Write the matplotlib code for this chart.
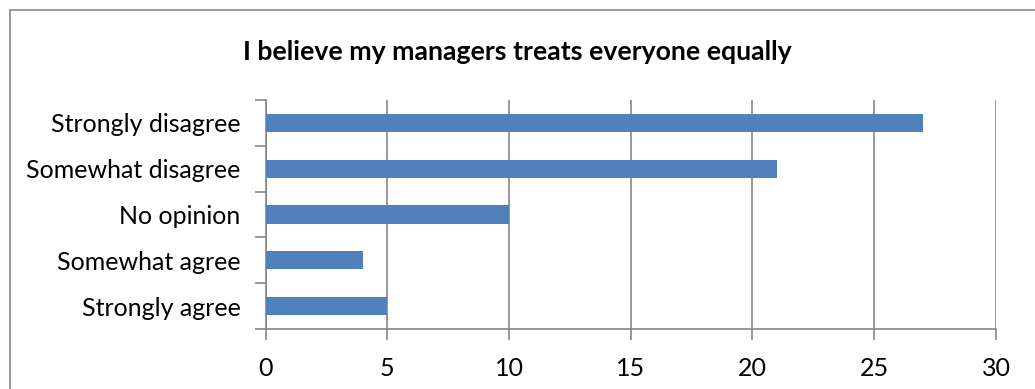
import matplotlib.pyplot as plt
from matplotlib.patches import Rectangle

categories = ['Strongly disagree', 'Somewhat disagree', 'No opinion',
              'Somewhat agree', 'Strongly agree']
counts = [27, 21, 10, 4, 5]
x_ticks = [0, 5, 10, 15, 20, 25, 30]

plt.rcParams['font.family'] = ['Lato', 'DejaVu Sans']

W, H = 1035, 389
fig = plt.figure(figsize=(W / 100, H / 100), dpi=100)

# outer chart border
fig.patches.append(Rectangle((10 / W, -0.05), 1.2, (H - 10) / H + 0.05,
                             transform=fig.transFigure, fill=False,
                             edgecolor='#868686', linewidth=1.2))

ax = fig.add_axes([265.5 / W, 1 - 329 / H, (996 - 265.5) / W, 229 / H])

pos = list(range(len(categories)))
ax.barh(pos, counts, height=0.4, color='#4F81BD', zorder=3)
ax.set_ylim(len(categories) - 0.5, -0.5)
ax.set_xlim(0, 30)

ax.set_xticks(x_ticks)
ax.set_xticklabels([str(t) for t in x_ticks], fontsize=18)
ax.set_yticks(pos)
ax.set_yticklabels(categories, fontsize=18)
ax.tick_params(axis='y', length=0, pad=18)
ax.tick_params(axis='x', length=8, color='#868686', width=1.2, pad=12)

# category boundary ticks on the left axis
ax.set_yticks([p - 0.5 for p in pos] + [len(categories) - 0.5], minor=True)
ax.tick_params(axis='y', which='minor', length=8, color='#868686', width=1.2)

ax.grid(axis='x', color='#868686', linewidth=1.2, zorder=0)
for side in ['top', 'right']:
    ax.spines[side].set_visible(False)
for side in ['left', 'bottom']:
    ax.spines[side].set_color('#868686')
    ax.spines[side].set_linewidth(1.2)

fig.text(0.5, 1 - 52 / H, 'I believe my managers treats everyone equally',
         ha='center', va='center', fontsize=19.2, fontweight='bold')

fig.savefig('out.png', dpi=100)
